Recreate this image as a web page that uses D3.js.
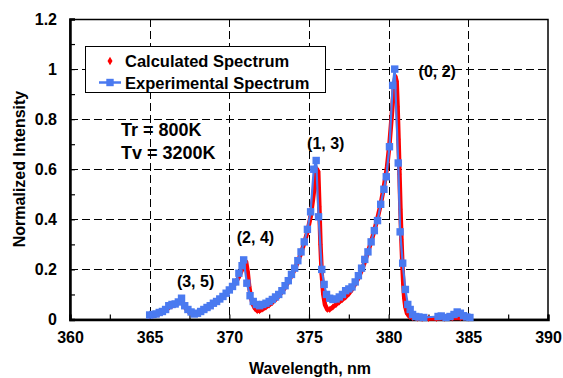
<!DOCTYPE html>
<html><head><meta charset="utf-8">
<script src="https://cdn.jsdelivr.net/npm/d3@7"></script>
<style>body{margin:0;background:#fff}svg{display:block}text{font-family:"Liberation Sans",Arial,sans-serif;font-weight:bold}</style>
</head><body>
<script>
// Calculated spectrum (red diamonds)
const calcWavelength = [365.0,365.2,365.4,365.6,365.8,366.0,366.2,366.4,366.6,366.8,366.95,367.05,367.2,367.4,367.6,367.8,368.0,368.2,368.4,368.6,368.8,369.0,369.2,369.4,369.6,369.8,370.0,370.2,370.4,370.6,370.8,370.95,371.05,371.15,371.25,371.35,371.45,371.6,371.75,371.9,372.1,372.3,372.5,372.7,372.9,373.1,373.3,373.5,373.7,373.9,374.1,374.3,374.5,374.7,374.9,375.1,375.25,375.4,375.5,375.58,375.65,375.72,375.8,375.9,376.0,376.15,376.3,376.5,376.7,376.9,377.1,377.3,377.5,377.7,377.9,378.1,378.3,378.5,378.7,378.9,379.1,379.3,379.5,379.7,379.9,380.05,380.2,380.32,380.42,380.5,380.56,380.62,380.68,380.74,380.8,380.86,380.92,380.98,381.05,381.15,381.3,381.5,381.8,382.1,382.5,383.0,383.5,384.0,384.5,385.0];
const calcIntensity = [0.015,0.017,0.02,0.024,0.03,0.038,0.048,0.055,0.06,0.068,0.075,0.07,0.05,0.035,0.028,0.025,0.027,0.032,0.038,0.045,0.053,0.062,0.07,0.08,0.09,0.102,0.115,0.13,0.148,0.17,0.2,0.225,0.23,0.19,0.13,0.09,0.065,0.045,0.035,0.035,0.042,0.05,0.058,0.068,0.08,0.094,0.11,0.128,0.15,0.175,0.2,0.23,0.265,0.305,0.35,0.41,0.48,0.56,0.6,0.59,0.45,0.3,0.18,0.1,0.06,0.04,0.04,0.05,0.06,0.07,0.08,0.09,0.103,0.12,0.142,0.166,0.195,0.23,0.27,0.31,0.355,0.405,0.46,0.53,0.61,0.7,0.82,0.92,0.97,0.95,0.85,0.72,0.58,0.44,0.32,0.22,0.14,0.085,0.05,0.025,0.012,0.007,0.005,0.004,0.004,0.004,0.005,0.006,0.007,0.006];
// Experimental spectrum (blue squares)
const expWavelength = [365.0,365.2,365.4,365.6,365.8,366.0,366.2,366.4,366.6,366.8,367.0,367.2,367.4,367.6,367.8,368.0,368.2,368.4,368.6,368.8,369.0,369.2,369.4,369.6,369.8,370.0,370.2,370.4,370.6,370.8,370.9,371.1,371.3,371.5,371.7,371.9,372.1,372.3,372.5,372.7,372.9,373.1,373.3,373.5,373.7,373.9,374.1,374.3,374.5,374.7,374.9,375.1,375.3,375.45,375.6,375.8,375.95,376.1,376.3,376.5,376.7,376.9,377.1,377.3,377.5,377.7,377.9,378.1,378.3,378.5,378.7,378.9,379.1,379.3,379.5,379.7,379.85,380.05,380.25,380.38,380.6,380.72,380.88,381.05,381.2,381.35,381.5,381.7,381.9,382.2,383.1,383.3,383.6,383.85,384.1,384.3,384.5,384.7,384.9,385.1];
const expIntensity = [0.018,0.02,0.022,0.028,0.032,0.04,0.055,0.06,0.062,0.07,0.085,0.055,0.04,0.03,0.022,0.025,0.032,0.04,0.048,0.055,0.065,0.072,0.082,0.092,0.105,0.118,0.132,0.15,0.185,0.215,0.238,0.145,0.095,0.072,0.06,0.055,0.06,0.065,0.072,0.08,0.09,0.1,0.115,0.135,0.155,0.18,0.205,0.235,0.27,0.31,0.36,0.43,0.6,0.635,0.41,0.2,0.14,0.1,0.085,0.08,0.082,0.09,0.1,0.115,0.122,0.13,0.15,0.175,0.205,0.24,0.27,0.31,0.355,0.395,0.46,0.52,0.57,0.69,0.935,1.0,0.625,0.35,0.225,0.12,0.06,0.04,0.02,0.012,0.01,0.008,0.012,0.014,0.008,0.012,0.02,0.03,0.025,0.015,0.01,0.008];
const xTicks = [360,365,370,375,380,385,390];
const yTicks = [0,0.2,0.4,0.6,0.8,1,1.2];
const seriesNames = ["Calculated Spectrum","Experimental Spectrum"];
const bandLabels = [{t:"(3, 5)",x:367.88,y:0.131},{t:"(2, 4)",x:371.64,y:0.306},{t:"(1, 3)",x:376.05,y:0.682},{t:"(0, 2)",x:383.05,y:0.97}];
const tempLabels = ["Tr = 800K","Tv = 3200K"];

const W=563,H=378;
const svg=d3.select("body").append("svg").attr("width",W).attr("height",H);
const x=d3.scaleLinear().domain([360,390]).range([70,548]);
const y=d3.scaleLinear().domain([0,1.2]).range([319.5,19]);

// gridlines
svg.append("g").selectAll("line").data([0.2,0.4,0.6,0.8,1.0]).join("line")
  .attr("x1",70).attr("x2",548).attr("y1",d=>Math.round(y(d))+0.5).attr("y2",d=>Math.round(y(d))+0.5)
  .attr("stroke","#000").attr("stroke-dasharray","8,4");
svg.append("g").selectAll("line").data([365,370,375,380,385]).join("line")
  .attr("y1",19).attr("y2",319).attr("x1",d=>Math.round(x(d))+0.5).attr("x2",d=>Math.round(x(d))+0.5)
  .attr("stroke","#000").attr("stroke-dasharray","8,4");

// frame
svg.append("rect").attr("x",70).attr("y",19.5).attr("width",478).attr("height",300).attr("fill","none").attr("stroke","#000").attr("stroke-width",1.5);

// axes
const xAxis=d3.axisBottom(x).tickValues(d3.range(360,390.1,2.5)).tickSize(-5).tickFormat(d=>xTicks.includes(d)?d:"").tickPadding(12);
const gx=svg.append("g").attr("transform","translate(0,319.5)").call(xAxis);
gx.select(".domain").attr("stroke-width",2.5);
gx.selectAll(".tick line").attr("stroke-width",1.2);
gx.selectAll("text").attr("font-size",16).attr("fill","#000");

const yAxis=d3.axisLeft(y).tickValues(d3.range(0,1.21,0.1)).tickSize(-5).tickFormat((d,i)=>i%2===0?String(yTicks[i/2]):"").tickPadding(13);
const gy=svg.append("g").attr("transform","translate(70,0)").call(yAxis);
gy.select(".domain").attr("stroke-width",2.5);
gy.selectAll(".tick line").attr("stroke-width",1.2);
gy.selectAll("text").attr("font-size",16).attr("fill","#000");

// calculated series
const calc=calcWavelength.map((w,i)=>[w,calcIntensity[i]]);
const exp=expWavelength.map((w,i)=>[w,expIntensity[i]]);
const line=d3.line().x(d=>x(d[0])).y(d=>y(d[1]));
svg.append("path").datum(calc).attr("d",line).attr("fill","none").attr("stroke","#ff0000").attr("stroke-width",4.5).attr("stroke-linejoin","round");
const diamond=d3.symbol().type(d3.symbolDiamond).size(14);
svg.append("g").selectAll("path").data(calc).join("path").attr("d",diamond)
  .attr("transform",d=>`translate(${x(d[0])},${y(d[1])})`).attr("fill","#ff0000");

// experimental series
const blue="#4a7af0";
svg.append("path").datum(exp).attr("d",line).attr("fill","none").attr("stroke",blue).attr("stroke-width",2.2);
svg.append("g").selectAll("rect").data(exp).join("rect")
  .attr("x",d=>x(d[0])-3.7).attr("y",d=>y(d[1])-3.7).attr("width",7.4).attr("height",7.4).attr("fill",blue);

// legend
svg.append("rect").attr("x",85.5).attr("y",46.5).attr("width",240).attr("height",46).attr("fill","#fff").attr("stroke","#000").attr("stroke-width",1);
svg.append("path").attr("d",d3.symbol().type(d3.symbolDiamond).size(22)).attr("transform","translate(110,61)").attr("fill","#ff0000");
svg.append("line").attr("x1",99).attr("x2",121).attr("y1",82.5).attr("y2",82.5).attr("stroke",blue).attr("stroke-width",2.5);
svg.append("rect").attr("x",106.3).attr("y",78.8).attr("width",7.4).attr("height",7.4).attr("fill",blue);
svg.selectAll(".leg").data(seriesNames).join("text").attr("class","leg")
  .attr("x",125).attr("y",(d,i)=>67+i*21.5).attr("font-size",16.5).text(d=>d);

// temperature annotations
svg.selectAll(".temp").data(tempLabels).join("text").attr("class","temp")
  .attr("x",121).attr("y",(d,i)=>136+i*23).attr("font-size",18).text(d=>d);

// band labels
svg.selectAll(".band").data(bandLabels).join("text").attr("class","band")
  .attr("x",d=>x(d.x)).attr("y",d=>y(d.y)).attr("text-anchor","middle").attr("font-size",16).text(d=>d.t);

// axis titles
svg.append("text").attr("x",310).attr("y",373.5).attr("text-anchor","middle").attr("font-size",16).text("Wavelength, nm");
svg.append("text").attr("transform","translate(25,169) rotate(-90)").attr("text-anchor","middle").attr("font-size",16).text("Normalized Intensity");
</script>
</body></html>
